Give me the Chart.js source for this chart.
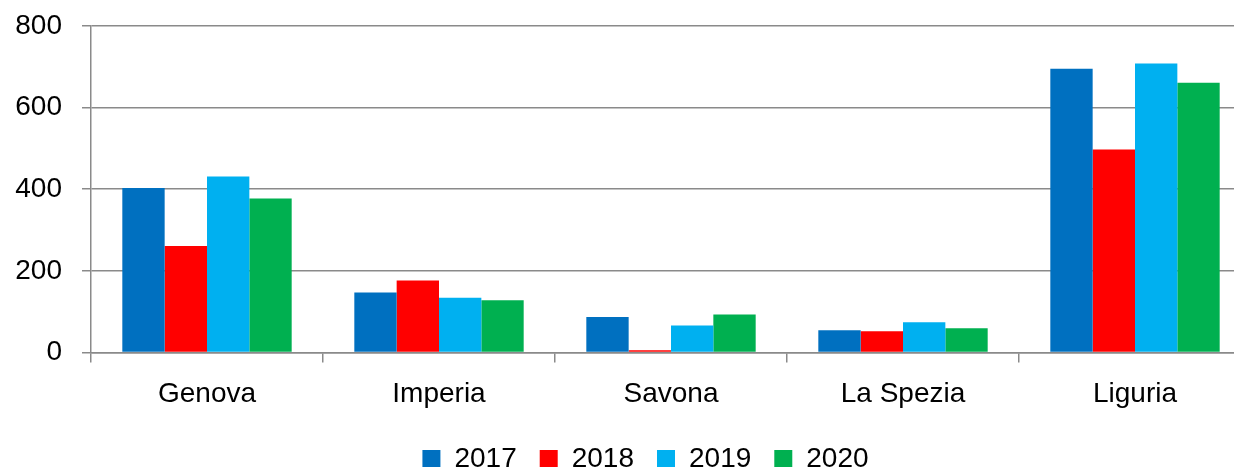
<!DOCTYPE html>
<html>
<head>
<meta charset="utf-8">
<script src="https://cdn.jsdelivr.net/npm/chart.js@4/dist/chart.umd.min.js"></script>
<style>
  html, body { margin: 0; padding: 0; background: #fff; overflow: hidden; }
  #wrap { width: 1290px; height: 483px; position: relative; }
</style>
</head>
<body>
<div id="wrap"><canvas id="chart"></canvas></div>
<script>
const categories = ['Genova', 'Imperia', 'Savona', 'La Spezia', 'Liguria'];
const years = ['2017', '2018', '2019', '2020'];
const values2017 = [403, 147, 87, 54, 695];
const values2018 = [261, 176, 5, 52, 497];
const values2019 = [431, 134, 66, 74, 708];
const values2020 = [377, 128, 93, 59, 661];
const yTicks = [0, 200, 400, 600, 800];

const colors = ['#0070C0', '#FF0000', '#00B0F0', '#00B050'];
const series = [values2017, values2018, values2019, values2020];
const gridColor = '#8a8a8a';
const font = { family: 'Liberation Sans, Arial, sans-serif', size: 28 };

// let the layout padding alone decide the margins
function noPad(axis) {
  axis.paddingTop = 0;
  axis.paddingBottom = 0;
  axis.paddingLeft = 0;
  axis.paddingRight = 0;
}

const ctx = document.getElementById('chart').getContext('2d');
new Chart(ctx, {
  type: 'bar',
  data: {
    labels: categories,
    datasets: years.map((y, i) => ({
      label: y,
      data: series[i],
      backgroundColor: colors[i],
      borderWidth: 0,
      categoryPercentage: 0.73,
      barPercentage: 1
    }))
  },
  options: {
    responsive: true,
    maintainAspectRatio: false,
    animation: false,
    layout: { padding: { left: 15, right: 14, top: 26, bottom: 0 } },
    plugins: {
      legend: {
        position: 'bottom',
        labels: {
          font: font,
          color: '#000',
          boxWidth: 18,
          boxHeight: 18,
          padding: 23
        }
      },
      tooltip: { enabled: false }
    },
    scales: {
      x: {
        afterFit: axis => { noPad(axis); axis.height -= 4; },
        grid: {
          drawOnChartArea: false,
          drawTicks: true,
          tickLength: 10,
          color: gridColor,
          lineWidth: 1.5
        },
        border: { color: gridColor, width: 1.5 },
        ticks: { font: font, color: '#000', padding: 15 }
      },
      y: {
        min: 0,
        max: 800,
        afterBuildTicks: axis => { axis.ticks = yTicks.map(v => ({ value: v })); },
        afterFit: axis => { noPad(axis); axis.width = 76; },
        grid: {
          color: gridColor,
          lineWidth: 1.5,
          tickLength: 9
        },
        border: { color: gridColor, width: 1.5 },
        ticks: { font: font, color: '#000', padding: 20 }
      },
      // empty spacer on the right, keeps the legend centred like the original
      spacer: {
        type: 'linear',
        position: 'right',
        display: true,
        afterFit: axis => { noPad(axis); axis.width = 25; },
        grid: { display: false, drawTicks: false },
        border: { display: false },
        ticks: { display: false }
      }
    }
  }
});
</script>
</body>
</html>
